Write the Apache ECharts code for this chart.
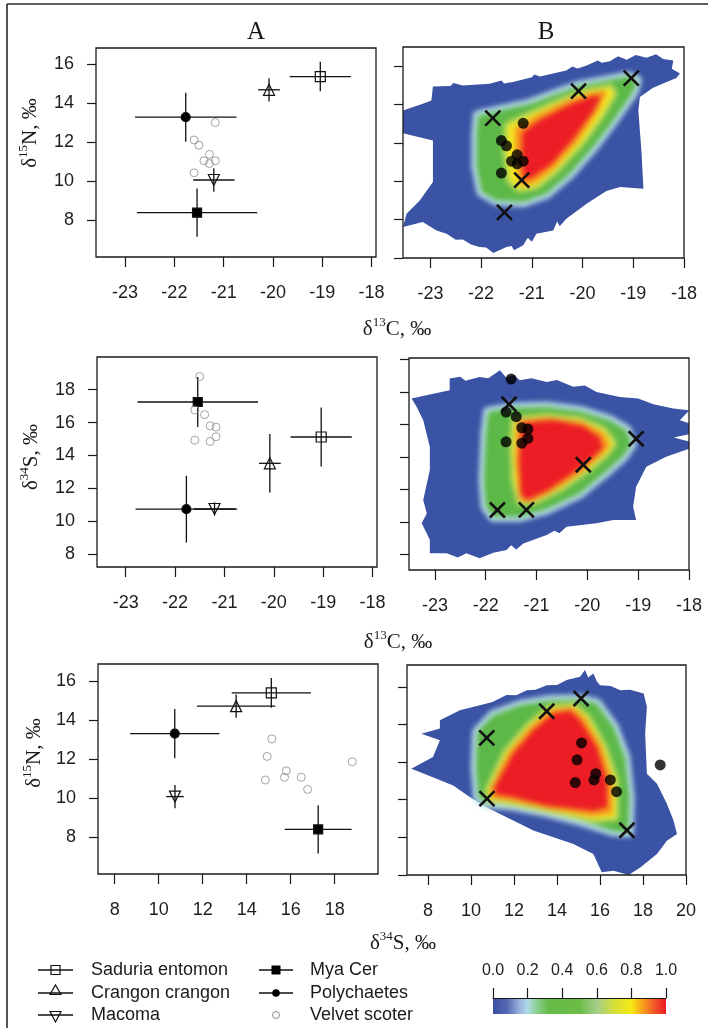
<!DOCTYPE html>
<html>
<head>
<meta charset="utf-8">
<script src="https://cdn.jsdelivr.net/npm/echarts@6.0.0/dist/echarts.min.js"></script>
<style>
  html, body { margin: 0; padding: 0; background: #fff; }
  .layer { position: absolute; left: 0; top: 0; width: 708px; height: 1028px; }
  #heat { filter: blur(2.5px); }
</style>
</head>
<body>
<div id="base" class="layer"></div>
<div id="heat" class="layer"></div>
<div id="over" class="layer"></div>
<script>
// ---------- prey sources: means and standard deviations ----------
const sourceNames = ['Saduria entomon', 'Crangon crangon', 'Macoma', 'Mya Cer', 'Polychaetes'];
const sourceC   = [-19.04, -20.08, -21.20, -21.54, -21.77];
const sourceCsd = [0.62, 0.22, 0.42, 1.22, 1.03];
const sourceN   = [15.38, 14.70, 10.06, 8.38, 13.29];
const sourceNsd = [0.76, 0.60, 0.60, 1.24, 1.26];
const sourceS   = [15.12, 13.52, 10.74, 17.25, 10.73];
const sourceSsd = [1.80, 1.78, 0.40, 1.52, 2.03];

// ---------- velvet scoter individuals ----------
const scoterC = [-21.17, -21.60, -21.50, -21.29, -21.17, -21.40, -21.29, -21.60];
const scoterN = [13.02, 12.12, 11.85, 11.38, 11.05, 11.05, 10.91, 10.43];
const scoterS = [15.14, 14.93, 18.80, 15.80, 15.72, 16.48, 14.85, 16.77];

// ---------- tick values ----------
const ticksC   = [-23, -22, -21, -20, -19, -18];
const ticksN   = [8, 10, 12, 14, 16];
const ticksNB  = [6, 8, 10, 12, 14, 16];
const ticksS   = [8, 10, 12, 14, 16, 18];
const ticksSB  = [8, 10, 12, 14, 16, 18, 20];
const ticksSx  = [8, 10, 12, 14, 16, 18];
const ticksSxB = [8, 10, 12, 14, 16, 18, 20];
const scaleTicks = [0, 0.2, 0.4, 0.6, 0.8, 1.0];

// ---------- mixing-space density outlines, d13C vs d15N ----------
const cnOuter = [[-22.95,14.94],[-22.60,14.97],[-22.55,15.12],[-22.36,14.99],[-21.83,15.08],[-21.60,15.25],[-21.55,15.10],[-21.37,15.17],[-21.00,15.42],[-20.95,15.56],[-20.84,15.46],[-20.32,15.78],[-20.20,15.98],[-20.10,15.88],[-19.92,16.04],[-19.70,16.30],[-19.62,16.18],[-19.46,16.26],[-19.30,16.52],[-19.13,16.33],[-18.95,16.58],[-18.74,16.44],[-18.55,16.62],[-18.41,16.38],[-18.21,16.30],[-18.24,15.86],[-18.08,15.62],[-18.15,15.39],[-18.34,15.17],[-18.61,14.87],[-18.87,14.39],[-18.90,13.69],[-18.84,11.61],[-18.80,9.61],[-19.26,9.70],[-19.53,9.49],[-19.92,8.83],[-20.32,8.05],[-20.45,7.65],[-20.50,7.90],[-20.58,7.44],[-20.91,7.27],[-21.00,6.85],[-21.08,7.05],[-21.17,6.66],[-21.35,6.40],[-21.40,6.62],[-21.50,6.57],[-21.76,6.26],[-21.90,6.55],[-22.03,6.57],[-22.20,6.70],[-22.36,6.96],[-22.50,6.95],[-22.68,7.27],[-22.88,7.44],[-23.15,7.88],[-23.54,7.62],[-23.47,8.31],[-23.21,9.00],[-22.95,9.96],[-22.95,12.13],[-23.54,12.51],[-23.54,13.69],[-23.15,14.04],[-22.98,14.21]];
const cnGreen  = [[-22.06,13.43],[-21.63,13.69],[-21.04,14.04],[-20.51,14.56],[-20.05,14.99],[-19.53,15.25],[-19.10,15.46],[-18.93,15.25],[-19.00,14.65],[-19.39,13.17],[-19.79,11.78],[-20.25,10.39],[-20.71,9.35],[-21.17,8.92],[-21.70,9.00],[-21.99,9.44],[-22.09,10.74],[-22.09,12.48]];
const cnYellow = [[-21.47,12.91],[-21.04,13.43],[-20.45,14.12],[-19.92,14.65],[-19.46,14.87],[-19.39,14.56],[-19.66,13.34],[-20.05,11.95],[-20.51,10.65],[-20.91,9.78],[-21.24,9.61],[-21.43,10.05],[-21.50,11.61]];
const cnOrange = [[-21.30,12.74],[-20.91,13.34],[-20.32,14.12],[-19.79,14.56],[-19.56,14.65],[-19.72,13.69],[-20.12,12.13],[-20.58,10.74],[-20.97,9.96],[-21.20,9.87],[-21.30,11.09]];
const cnRed    = [[-21.18,12.56],[-20.84,13.20],[-20.25,14.00],[-19.79,14.44],[-19.64,14.44],[-19.79,13.66],[-20.18,12.22],[-20.61,10.91],[-21.01,10.17],[-21.16,10.13],[-21.20,11.26]];

// ---------- d13C vs d34S ----------
const csOuter = [[-23.46,17.60],[-23.10,17.85],[-22.71,18.11],[-22.71,18.83],[-22.50,18.95],[-22.40,18.70],[-22.12,18.93],[-21.95,18.85],[-21.72,19.34],[-21.60,18.90],[-21.45,19.05],[-21.33,18.73],[-21.10,18.85],[-20.80,18.62],[-20.60,18.75],[-20.28,18.32],[-20.05,18.40],[-19.82,18.01],[-19.36,17.70],[-19.00,17.60],[-18.70,17.25],[-18.31,16.98],[-17.99,16.88],[-18.18,16.26],[-17.99,16.06],[-17.99,15.40],[-18.30,15.20],[-17.99,14.95],[-17.99,14.52],[-18.45,14.01],[-18.84,13.39],[-19.04,12.16],[-19.10,10.93],[-19.04,10.11],[-19.49,10.11],[-19.82,9.91],[-20.41,9.70],[-20.55,9.30],[-20.65,9.45],[-20.80,9.19],[-21.26,8.67],[-21.40,8.30],[-21.50,8.55],[-21.59,8.26],[-21.85,8.10],[-22.12,7.75],[-22.38,8.06],[-22.55,7.80],[-22.77,8.06],[-23.10,8.06],[-23.10,8.90],[-23.26,9.91],[-23.16,10.52],[-23.23,11.34],[-23.10,13.19],[-23.10,14.62],[-23.23,16.26],[-23.36,17.09]];
const csGreen  = [[-21.95,16.78],[-21.46,17.04],[-20.80,17.09],[-20.15,16.84],[-19.56,16.26],[-19.23,15.65],[-19.13,14.79],[-19.30,14.01],[-19.63,13.09],[-20.15,11.75],[-20.80,10.77],[-21.33,10.32],[-21.85,10.32],[-22.00,10.93],[-22.04,12.57],[-22.00,15.44]];
const csYellow = [[-21.43,16.26],[-20.80,16.47],[-20.15,16.26],[-19.69,15.65],[-19.49,14.83],[-19.63,14.21],[-20.02,13.19],[-20.54,12.06],[-21.07,11.24],[-21.33,11.24],[-21.43,12.57],[-21.46,14.62]];
const csOrange = [[-21.36,16.20],[-20.74,16.37],[-20.12,16.10],[-19.72,15.44],[-19.59,14.73],[-19.76,14.11],[-20.15,13.09],[-20.67,12.00],[-21.13,11.28],[-21.32,11.44],[-21.39,13.80]];
const csRed    = [[-21.28,16.10],[-20.67,16.26],[-20.08,15.90],[-19.76,15.20],[-19.70,14.58],[-19.89,13.97],[-20.28,13.02],[-20.80,11.92],[-21.20,11.34],[-21.30,11.75],[-21.34,13.80]];

// ---------- d34S vs d15N ----------
const snOuter = [[7.22,11.65],[8.23,12.27],[8.55,13.16],[7.69,13.51],[8.55,13.78],[8.55,14.22],[9.48,14.76],[10.41,15.02],[11.00,15.20],[11.65,15.56],[12.10,15.55],[12.59,15.82],[13.00,15.85],[13.52,16.09],[14.00,16.10],[14.45,16.36],[15.07,16.54],[15.30,16.90],[15.45,16.50],[15.69,16.71],[15.85,16.30],[16.00,16.09],[16.50,16.05],[16.94,15.82],[17.40,15.85],[18.03,15.65],[18.18,14.94],[18.10,13.51],[18.18,11.38],[18.65,10.85],[19.11,9.78],[19.42,8.89],[19.58,8.18],[19.11,7.82],[18.65,7.11],[17.87,6.40],[17.33,6.00],[16.63,6.22],[16.08,6.14],[15.69,7.11],[14.76,7.65],[13.83,8.00],[12.90,8.36],[11.96,8.89],[10.88,9.51],[9.94,10.14],[9.17,10.76],[8.39,11.11],[7.61,11.47]];
const snGreen  = [[10.29,13.60],[11.03,14.49],[12.28,15.02],[13.67,15.29],[15.07,15.33],[15.85,15.11],[16.63,13.87],[17.17,12.27],[17.37,10.14],[17.33,8.27],[16.63,8.32],[15.07,8.89],[13.52,9.34],[11.96,9.69],[10.72,9.82],[10.33,10.14],[10.22,11.74]];
const snYellow = [[10.80,10.49],[11.65,12.54],[12.74,13.96],[13.67,14.85],[14.76,14.97],[15.38,14.40],[16.16,12.80],[16.70,11.02],[16.70,9.07],[15.69,8.98],[13.52,9.51],[11.96,9.87],[10.88,10.05]];
const snOrange = [[10.95,10.58],[11.81,12.48],[12.82,13.83],[13.75,14.72],[14.68,14.85],[15.23,14.31],[16.00,12.80],[16.50,11.02],[16.50,9.34],[15.69,9.21],[13.52,9.60],[11.96,9.99],[11.00,10.17]];
const snRed    = [[11.11,10.67],[11.96,12.45],[12.90,13.69],[13.83,14.58],[14.61,14.72],[15.07,14.22],[15.85,12.80],[16.32,11.02],[16.32,9.60],[15.69,9.42],[13.52,9.69],[11.96,10.14],[11.11,10.31]];

// ---------- colour scale ----------
const scaleStops  = [0, 0.08, 0.16, 0.2, 0.25, 0.32, 0.5, 0.6, 0.7, 0.8, 0.86, 0.93, 1];
const scaleColors = ['#3b4ea0', '#5468b2', '#9fb8e0', '#aed9e8', '#8fcf96', '#67bb48', '#6cbd47', '#a4cd8b', '#d4de38', '#f7e915', '#f7a41b', '#f15a29', '#ec1c24'];

// ---------- look ----------
const SANS = '"Liberation Sans", Arial, sans-serif';
const SERIF = '"Liberation Serif", "Times New Roman", serif';
const INK = '#1a1a1a';
const BLUE = '#3b53a4', HALO = '#b7dde8', GREEN = '#5cb847', PALE = '#bcd95a',
      YELLOW = '#f3e61f', ORANGE = '#f6921e', RED = '#ec1d25';

const values = { C: sourceC, N: sourceN, S: sourceS };
const spreads = { C: sourceCsd, N: sourceNsd, S: sourceSsd };
const scoter = { C: scoterC, N: scoterN, S: scoterS };

// panel layout: pixel box, axis ranges, ticks
const panels = [
  { box: [96, 48, 280, 209],  xr: [-23.59, -17.91], yr: [6.10, 16.85], xt: ticksC,   yt: ticksN,  ylab: true,  vx: 'C', vy: 'N' },
  { box: [403, 47, 281, 211], xr: [-23.54, -18.0],  yr: [6.0, 17.0],   xt: ticksC,   yt: ticksNB, ylab: false, vx: 'C', vy: 'N',
    layers: { outer: cnOuter, green: cnGreen, yellow: cnYellow, orange: cnOrange, red: cnRed } },
  { box: [97, 357, 280, 210], xr: [-23.58, -17.91], yr: [7.21, 19.99], xt: ticksC,   yt: ticksS,  ylab: true,  vx: 'C', vy: 'S' },
  { box: [409, 358, 280, 212], xr: [-23.51, -18.0], yr: [7.03, 20.1],  xt: ticksC,   yt: ticksSB, ylab: false, vx: 'C', vy: 'S',
    layers: { outer: csOuter, green: csGreen, yellow: csYellow, orange: csOrange, red: csRed } },
  { box: [98, 664, 280, 210], xr: [7.24, 19.97],   yr: [6.09, 16.86],  xt: ticksSx,  yt: ticksN,  ylab: true,  vx: 'S', vy: 'N' },
  { box: [407, 665, 279, 210], xr: [7.02, 20.0],   yr: [6.0, 17.16],   xt: ticksSxB, yt: ticksNB, ylab: false, vx: 'S', vy: 'N',
    layers: { outer: snOuter, green: snGreen, yellow: snYellow, orange: snOrange, red: snRed } }
];

function buildAxes(mode) {
  const grid = [], xAxis = [], yAxis = [];
  const deco = mode === 'base';
  panels.forEach((p, i) => {
    grid.push({
      left: p.box[0], top: p.box[1], width: p.box[2], height: p.box[3],
      show: mode === 'box', borderColor: INK, borderWidth: 1.3, backgroundColor: 'rgba(0,0,0,0)'
    });
    xAxis.push({
      type: 'value', gridIndex: i, min: p.xr[0], max: p.xr[1], position: 'bottom',
      axisLine: { show: false, onZero: false }, splitLine: { show: false },
      axisTick: { show: deco, inside: false, length: 10, customValues: p.xt, lineStyle: { color: INK, width: 1.2 } },
      axisLabel: { show: deco, customValues: p.xt, margin: 27, fontSize: 18, color: '#1e1e1e', fontFamily: SANS }
    });
    yAxis.push({
      type: 'value', gridIndex: i, min: p.yr[0], max: p.yr[1], position: 'left',
      axisLine: { show: false, onZero: false }, splitLine: { show: false },
      axisTick: { show: deco, inside: false, length: 9, customValues: p.yt, lineStyle: { color: INK, width: 1.2 } },
      axisLabel: { show: deco && p.ylab, customValues: p.yt, margin: 22, fontSize: 18, color: '#1e1e1e', fontFamily: SANS }
    });
  });
  return { grid, xAxis, yAxis };
}

function polygonSeries(poly, gi, style) {
  return {
    type: 'custom', xAxisIndex: gi, yAxisIndex: gi, clip: true, silent: true,
    data: [poly[0]],
    renderItem: (params, api) => ({
      type: 'polygon',
      shape: { points: poly.map(pt => api.coord(pt)) },
      style: Object.assign({ lineJoin: 'round' }, style)
    })
  };
}

// ---------- base layer: axes, panel A marks, outer density outline, text ----------
const base = echarts.init(document.getElementById('base'), null, { renderer: 'canvas' });
const baseAxes = buildAxes('base');
const baseSeries = [];

const sourceLook = [
  { symbol: 'rect', size: 10, fill: 'rgba(0,0,0,0)', rotate: 0 },
  { symbol: 'triangle', size: 11, fill: 'rgba(0,0,0,0)', rotate: 0 },
  { symbol: 'triangle', size: 11, fill: 'rgba(0,0,0,0)', rotate: 180 },
  { symbol: 'rect', size: 9, fill: '#000', rotate: 0 },
  { symbol: 'circle', size: 9, fill: '#000', rotate: 0 }
];

panels.forEach((p, gi) => {
  if (p.layers) {
    baseSeries.push(polygonSeries(p.layers.outer, gi, { fill: BLUE }));
    return;
  }
  // error bars (mean +/- sd on both isotopes)
  baseSeries.push({
    type: 'custom', xAxisIndex: gi, yAxisIndex: gi, z: 2, silent: true,
    encode: { x: 0, y: 1 },
    data: sourceNames.map((_, k) => [values[p.vx][k], values[p.vy][k], spreads[p.vx][k], spreads[p.vy][k]]),
    renderItem: (params, api) => {
      const x = api.value(0), y = api.value(1), dx = api.value(2), dy = api.value(3);
      const h1 = api.coord([x - dx, y]), h2 = api.coord([x + dx, y]);
      const v1 = api.coord([x, y - dy]), v2 = api.coord([x, y + dy]);
      const st = { stroke: '#111', lineWidth: 1.3 };
      return {
        type: 'group', children: [
          { type: 'line', shape: { x1: h1[0], y1: h1[1], x2: h2[0], y2: h2[1] }, style: st },
          { type: 'line', shape: { x1: v1[0], y1: v1[1], x2: v2[0], y2: v2[1] }, style: st }
        ]
      };
    }
  });
  sourceNames.forEach((name, k) => {
    const lk = sourceLook[k];
    baseSeries.push({
      type: 'scatter', name, xAxisIndex: gi, yAxisIndex: gi, z: 3, silent: true,
      symbol: lk.symbol, symbolSize: lk.size, symbolRotate: lk.rotate,
      itemStyle: { color: lk.fill, borderColor: '#111', borderWidth: 1.2, opacity: 1 },
      data: [[values[p.vx][k], values[p.vy][k]]]
    });
  });
  baseSeries.push({
    type: 'scatter', name: 'Velvet scoter', xAxisIndex: gi, yAxisIndex: gi, z: 3, silent: true,
    symbol: 'circle', symbolSize: 8,
    itemStyle: { color: 'rgba(0,0,0,0)', borderColor: '#8c8c8c', borderWidth: 1 },
    data: scoter[p.vx].map((v, k) => [v, scoter[p.vy][k]])
  });
});

// colour scale bar
baseAxes.grid.push({ left: 493, top: 998, width: 173, height: 16, show: false });
baseAxes.xAxis.push({
  type: 'value', gridIndex: 6, min: 0, max: 1, position: 'top', z: 5,
  axisLine: { show: true, onZero: false, lineStyle: { color: INK, width: 1.2 } }, splitLine: { show: false },
  axisTick: { show: true, inside: false, length: 10, customValues: scaleTicks, lineStyle: { color: INK, width: 1.2 } },
  axisLabel: { show: true, customValues: scaleTicks, margin: 19, fontSize: 16, color: '#1e1e1e', fontFamily: SANS,
    formatter: v => v.toFixed(1) }
});
baseAxes.yAxis.push({ type: 'value', gridIndex: 6, min: 0, max: 1, show: false });
baseSeries.push({
  type: 'custom', xAxisIndex: 6, yAxisIndex: 6, silent: true, z: 1,
  data: [[0, 0]],
  renderItem: (params, api) => {
    const a = api.coord([0, 1]), b = api.coord([1, 0]);
    return {
      type: 'rect',
      shape: { x: a[0], y: a[1], width: b[0] - a[0], height: b[1] - a[1] },
      style: { fill: new echarts.graphic.LinearGradient(0, 0, 1, 0,
        scaleStops.map((s, i) => ({ offset: s, color: scaleColors[i] }))) }
    };
  }
});

// titles, frame, legend
const richTitle = {
  n: { fontSize: 21, fontFamily: SERIF, fill: INK, lineHeight: 24, verticalAlign: 'bottom' },
  s: { fontSize: 13, fontFamily: SERIF, fill: INK, lineHeight: 24, verticalAlign: 'top' }
};
function titleText(x, y, iso, sup, elem, vertical) {
  return {
    type: 'text', x, y, rotation: vertical ? Math.PI / 2 : 0, silent: true,
    style: {
      text: '{n|' + iso + '}{s|' + sup + '}{n|' + elem + ', \u2030}',
      rich: richTitle, align: 'center', verticalAlign: 'middle',
      textAlign: 'center', textVerticalAlign: 'middle', fill: INK
    }
  };
}

const graphics = [
  { type: 'line', silent: true, shape: { x1: 7, y1: 4, x2: 7, y2: 1028 }, style: { stroke: '#2a2a2a', lineWidth: 1.6 } },
  { type: 'line', silent: true, shape: { x1: 7, y1: 4, x2: 708, y2: 4 }, style: { stroke: '#2a2a2a', lineWidth: 1.6 } },
  { type: 'text', x: 256, y: 32, silent: true, style: { text: 'A', font: '25px ' + SERIF, fill: INK, textAlign: 'center', textVerticalAlign: 'middle' } },
  { type: 'text', x: 546, y: 32, silent: true, style: { text: 'B', font: '25px ' + SERIF, fill: INK, textAlign: 'center', textVerticalAlign: 'middle' } },
  titleText(397, 328, '\u03b4', '13', 'C', false),
  titleText(398, 641, '\u03b4', '13', 'C', false),
  titleText(403, 942, '\u03b4', '34', 'S', false),
  titleText(29, 133, '\u03b4', '15', 'N', true),
  titleText(30, 457, '\u03b4', '34', 'S', true),
  titleText(33, 753, '\u03b4', '15', 'N', true)
];

// legend entries: two columns, three rows
const legendRows = [970, 993, 1015];
const legendCols = [{ x1: 38, x2: 73, sx: 55.5, tx: 91 }, { x1: 259, x2: 293, sx: 276, tx: 310 }];
const legendNames = sourceNames.concat(['Velvet scoter']);
const lineStyle = { stroke: '#111', lineWidth: 1.3 };
legendNames.forEach((name, i) => {
  const col = legendCols[Math.floor(i / 3)], cy = legendRows[i % 3], cx = col.sx;
  if (i < 5) graphics.push({ type: 'line', silent: true, shape: { x1: col.x1, y1: cy, x2: col.x2, y2: cy }, style: lineStyle });
  let mark;
  if (i === 0) mark = { type: 'rect', shape: { x: cx - 4.5, y: cy - 4.5, width: 9, height: 9 }, style: { fill: 'none', stroke: '#111', lineWidth: 1.2 } };
  if (i === 1) mark = { type: 'polygon', shape: { points: [[cx, cy - 8], [cx + 5.5, cy + 1.5], [cx - 5.5, cy + 1.5]] }, style: { fill: 'none', stroke: '#111', lineWidth: 1.2 } };
  if (i === 2) mark = { type: 'polygon', shape: { points: [[cx, cy + 7], [cx + 5.5, cy - 3.5], [cx - 5.5, cy - 3.5]] }, style: { fill: 'none', stroke: '#111', lineWidth: 1.2 } };
  if (i === 3) mark = { type: 'rect', shape: { x: cx - 4.5, y: cy - 4.5, width: 9, height: 9 }, style: { fill: '#000' } };
  if (i === 4) mark = { type: 'circle', shape: { cx, cy, r: 3.8 }, style: { fill: '#000' } };
  if (i === 5) mark = { type: 'circle', shape: { cx, cy, r: 3.5 }, style: { fill: 'none', stroke: '#8c8c8c', lineWidth: 1 } };
  mark.silent = true;
  graphics.push(mark);
  graphics.push({ type: 'text', x: col.tx, y: cy, silent: true,
    style: { text: name, font: '18px ' + SANS, fill: INK, textAlign: 'left', textVerticalAlign: 'middle' } });
});

base.setOption({
  animation: false,
  backgroundColor: '#fff',
  grid: baseAxes.grid, xAxis: baseAxes.xAxis, yAxis: baseAxes.yAxis,
  series: baseSeries,
  graphic: { elements: graphics }
});

// ---------- density colour layers (softened by the layer blur) ----------
const heat = echarts.init(document.getElementById('heat'), null, { renderer: 'canvas' });
const heatAxes = buildAxes('plain');
const heatSeries = [];
const bands = [
  { key: 'green',  style: { fill: HALO, stroke: HALO, lineWidth: 10 } },
  { key: 'green',  style: { fill: GREEN } },
  { key: 'yellow', style: { fill: PALE, stroke: PALE, lineWidth: 8 } },
  { key: 'yellow', style: { fill: YELLOW } },
  { key: 'orange', style: { fill: ORANGE, stroke: ORANGE, lineWidth: 3 } },
  { key: 'red',    style: { fill: RED } }
];
panels.forEach((p, gi) => {
  if (!p.layers) return;
  bands.forEach(b => heatSeries.push(polygonSeries(p.layers[b.key], gi, b.style)));
});
heat.setOption({
  animation: false,
  grid: heatAxes.grid, xAxis: heatAxes.xAxis, yAxis: heatAxes.yAxis,
  series: heatSeries
});

// ---------- overlay: panel boxes, scoter individuals and source means in panel B ----------
const over = echarts.init(document.getElementById('over'), null, { renderer: 'canvas' });
const overAxes = buildAxes('box');
const overSeries = [];
panels.forEach((p, gi) => {
  if (!p.layers) return;
  overSeries.push({
    type: 'scatter', xAxisIndex: gi, yAxisIndex: gi, silent: true, z: 3,
    symbol: 'circle', symbolSize: 11, itemStyle: { color: '#000' },
    data: scoter[p.vx].map((v, k) => [v, scoter[p.vy][k]])
  });
  overSeries.push({
    type: 'custom', xAxisIndex: gi, yAxisIndex: gi, silent: true, z: 4,
    encode: { x: 0, y: 1 },
    data: sourceNames.map((_, k) => [values[p.vx][k], values[p.vy][k]]),
    renderItem: (params, api) => {
      const c = api.coord([api.value(0), api.value(1)]), r = 7.5;
      const st = { stroke: '#111', lineWidth: 2.6 };
      return {
        type: 'group', children: [
          { type: 'line', shape: { x1: c[0] - r, y1: c[1] - r, x2: c[0] + r, y2: c[1] + r }, style: st },
          { type: 'line', shape: { x1: c[0] - r, y1: c[1] + r, x2: c[0] + r, y2: c[1] - r }, style: st }
        ]
      };
    }
  });
});
over.setOption({
  animation: false,
  grid: overAxes.grid, xAxis: overAxes.xAxis, yAxis: overAxes.yAxis,
  series: overSeries
});
</script>
</body>
</html>
